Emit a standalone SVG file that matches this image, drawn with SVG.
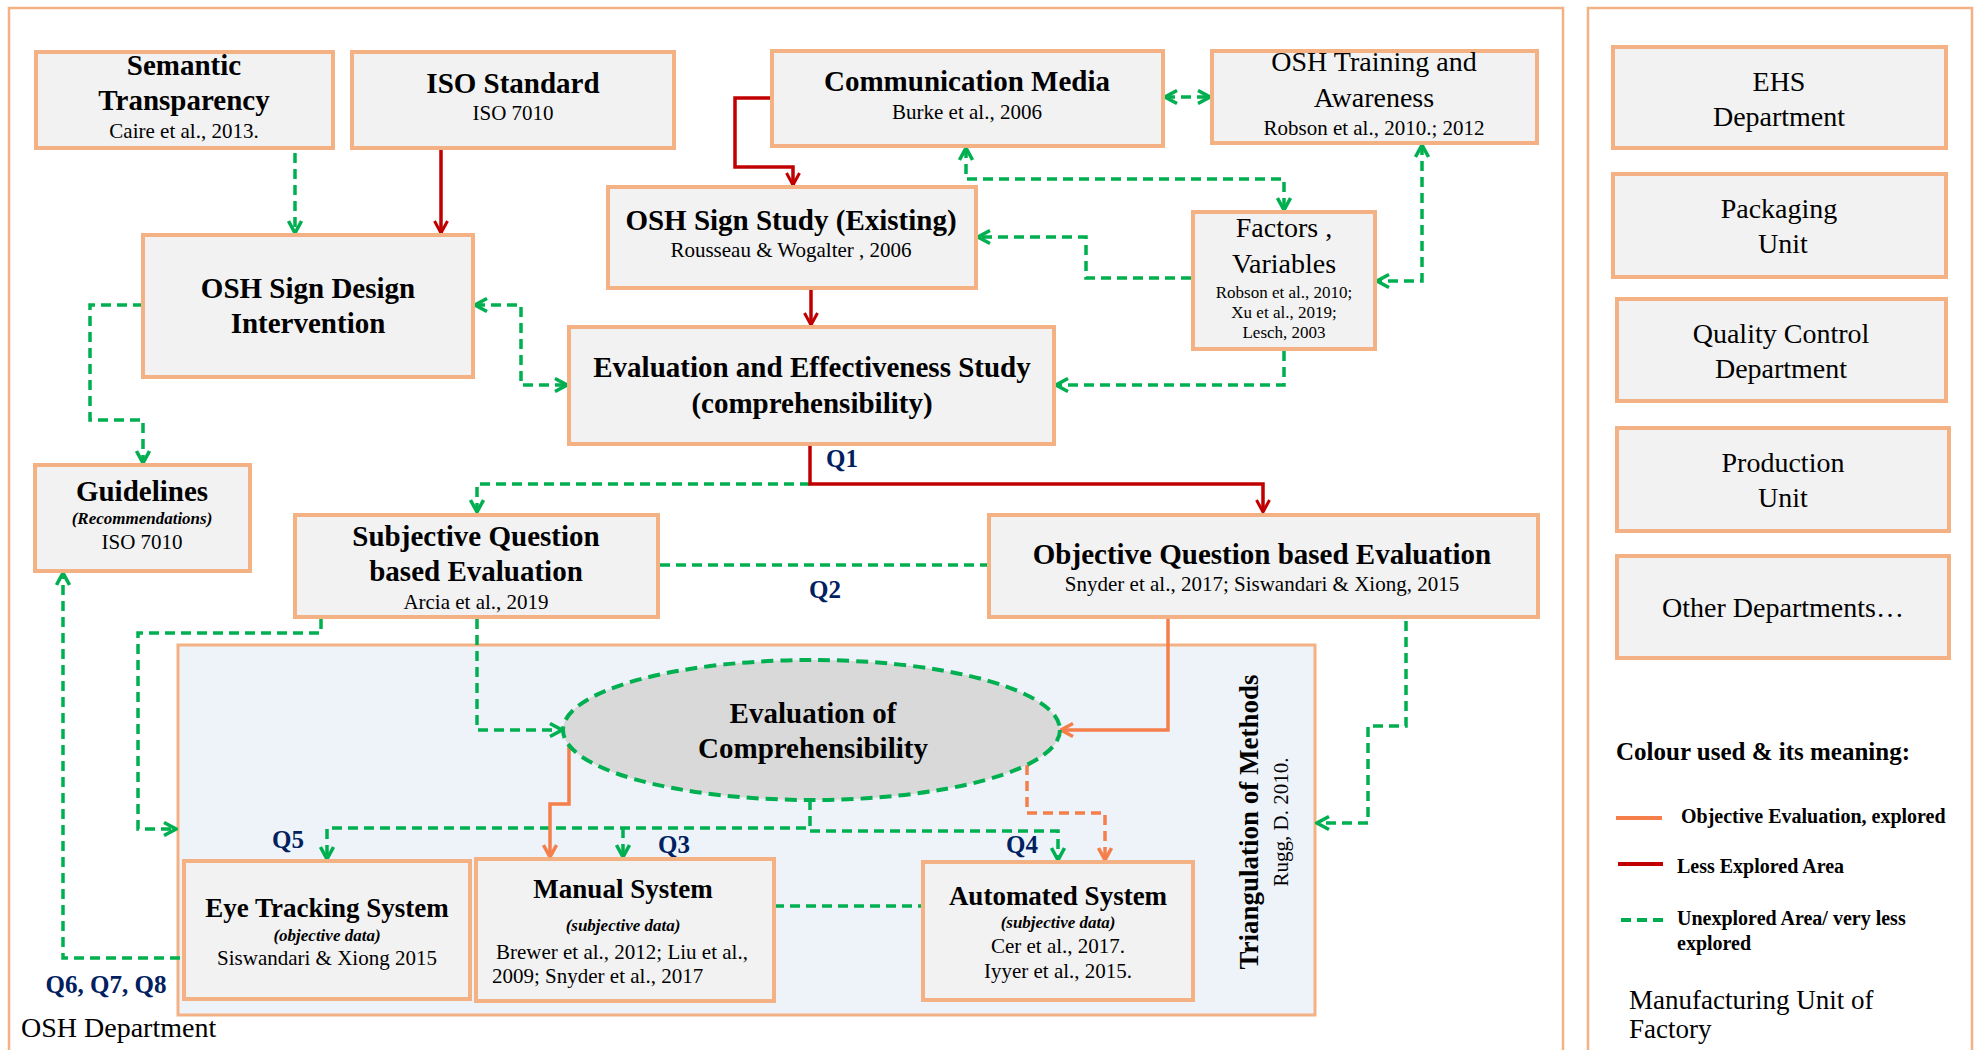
<svg xmlns="http://www.w3.org/2000/svg" width="1979" height="1050" viewBox="0 0 1979 1050">
  <style>
    text { font-family: "Liberation Serif", "Times New Roman", serif; fill: #000; }
    .box { fill: #F2F2F2; stroke: #F4B183; stroke-width: 4; }
    .panel { fill: none; stroke: #F4B183; stroke-width: 2.5; }
    .t { font-size: 29px; font-weight: bold; text-anchor: middle; }
    .ts { font-size: 27px; font-weight: bold; text-anchor: middle; }
    .r28 { font-size: 28px; text-anchor: middle; }
    .c { font-size: 21px; text-anchor: middle; }
    .c17 { font-size: 17px; text-anchor: middle; }
    .bi { font-size: 17px; font-weight: bold; font-style: italic; text-anchor: middle; }
    .q { font-size: 25px; font-weight: bold; fill: #002060; text-anchor: middle; }
    .leg { font-size: 20px; font-weight: bold; }
    .g { fill: none; stroke: #00B050; stroke-width: 3.5; stroke-dasharray: 10 6; }
    .rd { fill: none; stroke: #C00000; stroke-width: 3.5; }
    .o { fill: none; stroke: #F57F4B; stroke-width: 3.5; }
    .od { fill: none; stroke: #F57F4B; stroke-width: 3.5; stroke-dasharray: 10 6; }
  </style>
  <defs>
    <marker id="ag" markerUnits="userSpaceOnUse" viewBox="0 0 16 16" markerWidth="16" markerHeight="16" refX="14" refY="8" orient="auto-start-reverse">
      <path d="M2,1.5 L14,8 L2,14.5" fill="none" stroke="#00B050" stroke-width="3.5"/>
    </marker>
    <marker id="ar" markerUnits="userSpaceOnUse" viewBox="0 0 16 16" markerWidth="16" markerHeight="16" refX="14" refY="8" orient="auto-start-reverse">
      <path d="M2,1.5 L14,8 L2,14.5" fill="none" stroke="#C00000" stroke-width="3"/>
    </marker>
    <marker id="ao" markerUnits="userSpaceOnUse" viewBox="0 0 16 16" markerWidth="16" markerHeight="16" refX="14" refY="8" orient="auto-start-reverse">
      <path d="M2,1.5 L14,8 L2,14.5" fill="none" stroke="#F57F4B" stroke-width="3.5"/>
    </marker>
  </defs>

  <rect width="1979" height="1050" fill="#FFFFFF"/>

  <!-- outer panels -->
  <g id="osh-department-panel">
    <rect class="panel" x="9" y="8" width="1554" height="1060"/>
    <text x="21" y="1037" style="font-size:28px">OSH  Department</text>
  </g>
  <g id="manufacturing-panel">
    <rect class="panel" x="1588" y="8" width="384" height="1060"/>
    <text x="1629" y="1009" style="font-size:27px">Manufacturing  Unit of</text>
    <text x="1629" y="1038" style="font-size:27px">Factory</text>
  </g>

  <!-- triangulation area -->
  <g id="triangulation">
    <rect x="178" y="645" width="1137" height="370" fill="#EEF3FA" stroke="#F4B183" stroke-width="3"/>
    <text transform="translate(1258,822) rotate(-90)" style="font-size:27px;font-weight:bold;text-anchor:middle">Triangulation  of Methods</text>
    <text transform="translate(1288,822) rotate(-90)" style="font-size:21px;text-anchor:middle">Rugg, D. 2010.</text>
  </g>

  <!-- connectors -->
  <g id="connectors">
    <!-- unexplored (green dashed) -->
    <path class="g" d="M295,153 V233" marker-end="url(#ag)"/>
    <path class="g" d="M143,305 H90 V420 H143 V463" marker-end="url(#ag)"/>
    <path class="g" d="M475,305 H521 V385 H567" marker-start="url(#ag)" marker-end="url(#ag)"/>
    <path class="g" d="M966,148 V179 H1284 V210" marker-start="url(#ag)" marker-end="url(#ag)"/>
    <path class="g" d="M1191,278 H1086 V237 H978" marker-end="url(#ag)"/>
    <path class="g" d="M1284,351 V385 H1056" marker-end="url(#ag)"/>
    <path class="g" d="M1422,145 V281 H1377" marker-start="url(#ag)" marker-end="url(#ag)"/>
    <path class="g" d="M1165,97 H1210" marker-start="url(#ag)" marker-end="url(#ag)"/>
    <path class="g" d="M810,484 H477 V512" marker-end="url(#ag)"/>
    <path class="g" d="M660,565 H987"/>
    <path class="g" d="M477,619 V730 H562" marker-end="url(#ag)"/>
    <path class="g" d="M321,619 V633 H138 V829 H176" marker-end="url(#ag)"/>
    <path class="g" d="M180,958 H63 V573" marker-end="url(#ag)"/>
    <path class="g" d="M810,800 V828 H327 V859" marker-end="url(#ag)"/>
    <path class="g" d="M623,828 V857" marker-end="url(#ag)"/>
    <path class="g" d="M810,831 H1058 V860" marker-end="url(#ag)"/>
    <path class="g" d="M774,906 H921"/>
    <path class="g" d="M1406,621 V726 H1368 V823 H1317" marker-end="url(#ag)"/>
    <!-- less explored (red) -->
    <path class="rd" d="M441,150 V233" marker-end="url(#ar)"/>
    <path class="rd" d="M772,98 H735 V167 H793 V185" marker-end="url(#ar)"/>
    <path class="rd" d="M811,290 V325" marker-end="url(#ar)"/>
    <path class="rd" d="M810,446 V484 H1263 V512" marker-end="url(#ar)"/>
    <!-- objective evaluation (orange) -->
    <path class="o" d="M1168,619 V730 H1061" marker-end="url(#ao)"/>
    <path class="o" d="M569,746 V804 H550 V857" marker-end="url(#ao)"/>
    <path class="od" d="M1027,765 V813 H1105 V860" marker-end="url(#ao)"/>
  </g>

  <!-- question labels -->
  <g id="question-labels">
    <text class="q" x="842" y="467">Q1</text>
    <text class="q" x="825" y="598">Q2</text>
    <text class="q" x="674" y="853">Q3</text>
    <text class="q" x="1022" y="853">Q4</text>
    <text class="q" x="288" y="848">Q5</text>
    <text class="q" x="106" y="993">Q6, Q7, Q8</text>
  </g>

  <!-- nodes -->
  <g id="semantic-transparency">
    <rect class="box" x="36" y="52" width="297" height="96"/>
    <text class="t" x="184" y="75">Semantic</text>
    <text class="t" x="184" y="110">Transparency</text>
    <text class="c" x="184" y="138">Caire  et al., 2013.</text>
  </g>
  <g id="iso-standard">
    <rect class="box" x="352" y="52" width="322" height="96"/>
    <text class="t" x="513" y="93">ISO Standard</text>
    <text class="c" x="513" y="120">ISO 7010</text>
  </g>
  <g id="communication-media">
    <rect class="box" x="772" y="51" width="391" height="95"/>
    <text class="t" x="967" y="91">Communication  Media</text>
    <text class="c" x="967" y="119">Burke et al., 2006</text>
  </g>
  <g id="osh-training">
    <rect class="box" x="1212" y="51" width="325" height="92"/>
    <text class="r28" x="1374" y="71">OSH Training  and</text>
    <text class="r28" x="1374" y="107">Awareness</text>
    <text class="c" x="1374" y="135">Robson et al., 2010.; 2012</text>
  </g>
  <g id="osh-sign-study">
    <rect class="box" x="608" y="187" width="368" height="101"/>
    <text class="t" x="791" y="230">OSH Sign Study (Existing)</text>
    <text class="c" x="791" y="257">Rousseau &amp; Wogalter , 2006</text>
  </g>
  <g id="factors-variables">
    <rect class="box" x="1193" y="212" width="182" height="137"/>
    <text class="r28" x="1284" y="237">Factors  ,</text>
    <text class="r28" x="1284" y="273">Variables</text>
    <text class="c17" x="1284" y="298">Robson et al., 2010;</text>
    <text class="c17" x="1284" y="318">Xu et al., 2019;</text>
    <text class="c17" x="1284" y="338">Lesch, 2003</text>
  </g>
  <g id="osh-sign-design">
    <rect class="box" x="143" y="235" width="330" height="142"/>
    <text class="t" x="308" y="298">OSH Sign Design</text>
    <text class="t" x="308" y="333">Intervention</text>
  </g>
  <g id="evaluation-effectiveness">
    <rect class="box" x="569" y="327" width="485" height="117"/>
    <text class="t" x="812" y="377">Evaluation  and  Effectiveness  Study</text>
    <text class="t" x="812" y="413">(comprehensibility)</text>
  </g>
  <g id="guidelines">
    <rect class="box" x="35" y="465" width="215" height="106"/>
    <text class="t" x="142" y="501">Guidelines</text>
    <text class="bi" x="142" y="524">(Recommendations)</text>
    <text class="c" x="142" y="549">ISO 7010</text>
  </g>
  <g id="subjective-question">
    <rect class="box" x="295" y="515" width="363" height="102"/>
    <text class="t" x="476" y="546">Subjective Question</text>
    <text class="t" x="476" y="581">based  Evaluation</text>
    <text class="c" x="476" y="609">Arcia  et al., 2019</text>
  </g>
  <g id="objective-question">
    <rect class="box" x="989" y="515" width="549" height="102"/>
    <text class="t" x="1262" y="564">Objective  Question  based  Evaluation</text>
    <text class="c" x="1262" y="591">Snyder  et al., 2017; Siswandari &amp; Xiong, 2015</text>
  </g>
  <g id="evaluation-of-comprehensibility">
    <ellipse cx="811.5" cy="730" rx="248.5" ry="70" fill="#D9D9D9" stroke="#00B050" stroke-width="4" stroke-dasharray="12 7"/>
    <text class="t" x="813" y="723">Evaluation  of</text>
    <text class="t" x="813" y="758">Comprehensibility</text>
  </g>
  <g id="eye-tracking">
    <rect class="box" x="184" y="861" width="286" height="138"/>
    <text class="ts" x="327" y="917">Eye Tracking System</text>
    <text class="bi" x="327" y="941">(objective data)</text>
    <text class="c" x="327" y="965">Siswandari &amp; Xiong 2015</text>
  </g>
  <g id="manual-system">
    <rect class="box" x="476" y="859" width="298" height="142"/>
    <text class="ts" x="623" y="898">Manual System</text>
    <text class="bi" x="623" y="931">(subjective data)</text>
    <text x="496" y="959" style="font-size:21px">Brewer et al., 2012; Liu et al.,</text>
    <text x="492" y="983" style="font-size:21px">2009; Snyder  et al., 2017</text>
  </g>
  <g id="automated-system">
    <rect class="box" x="923" y="862" width="270" height="138"/>
    <text class="ts" x="1058" y="905">Automated System</text>
    <text class="bi" x="1058" y="928">(subjective data)</text>
    <text class="c" x="1058" y="953">Cer et al., 2017.</text>
    <text class="c" x="1058" y="978">Iyyer  et al., 2015.</text>
  </g>

  <!-- departments -->
  <g id="ehs-department">
    <rect class="box" x="1613" y="47" width="333" height="101"/>
    <text class="r28" x="1779" y="91">EHS</text>
    <text class="r28" x="1779" y="126">Department</text>
  </g>
  <g id="packaging-unit">
    <rect class="box" x="1613" y="174" width="333" height="103"/>
    <text class="r28" x="1779" y="218">Packaging</text>
    <text class="r28" x="1783" y="253">Unit</text>
  </g>
  <g id="quality-control">
    <rect class="box" x="1617" y="299" width="329" height="102"/>
    <text class="r28" x="1781" y="343">Quality  Control</text>
    <text class="r28" x="1781" y="378">Department</text>
  </g>
  <g id="production-unit">
    <rect class="box" x="1617" y="428" width="332" height="103"/>
    <text class="r28" x="1783" y="472">Production</text>
    <text class="r28" x="1783" y="507">Unit</text>
  </g>
  <g id="other-departments">
    <rect class="box" x="1617" y="556" width="332" height="102"/>
    <text class="r28" x="1783" y="617">Other  Departments…</text>
  </g>

  <!-- legend -->
  <g id="legend">
    <text x="1616" y="760" style="font-size:25px;font-weight:bold">Colour  used &amp; its meaning:</text>
    <line x1="1616" y1="818" x2="1662" y2="818" stroke="#F57F4B" stroke-width="4"/>
    <text class="leg" x="1681" y="823">Objective Evaluation, explored</text>
    <line x1="1618" y1="864" x2="1663" y2="864" stroke="#C00000" stroke-width="4"/>
    <text class="leg" x="1677" y="873">Less Explored  Area</text>
    <line x1="1621" y1="920" x2="1663" y2="920" stroke="#00B050" stroke-width="4" stroke-dasharray="10 6"/>
    <text class="leg" x="1677" y="925">Unexplored  Area/ very less</text>
    <text class="leg" x="1677" y="950">explored</text>
  </g>
</svg>
